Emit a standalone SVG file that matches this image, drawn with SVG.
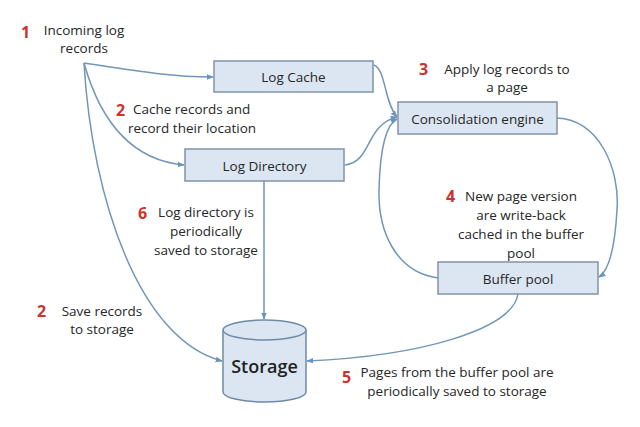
<svg xmlns="http://www.w3.org/2000/svg" width="640" height="427" viewBox="0 0 640 427">
<defs>
<style>
.box{fill:#dce6f2;stroke:#8193a6;stroke-width:1.5}
.t{font-family:"Open Sans","Liberation Sans",sans-serif;font-size:13.5px;fill:#262626}
.n{font-family:"Open Sans","Liberation Sans",sans-serif;font-size:16px;font-weight:bold;fill:#d0302c}
.c{fill:none;stroke:#7096b8;stroke-width:1.5}
</style>
<marker id="ah" viewBox="0 0 10 10" refX="9" refY="5" markerWidth="7" markerHeight="7" orient="auto" markerUnits="userSpaceOnUse">
<path d="M0,1 L10,5 L0,9 z" fill="#6a93bd"/>
</marker>
</defs>
<rect width="640" height="427" fill="#fff"/>
<g id="connectors">
<path class="c" marker-end="url(#ah)" d="M84,63 C130,70 170,77 213,77"/>
<path class="c" marker-end="url(#ah)" d="M84,63 C100,120 130,160 184,165"/>
<path class="c" marker-end="url(#ah)" d="M84,63 C92,200 140,340 222,361"/>
<path class="c" marker-end="url(#ah)" d="M374,65 C386,70 384,102 397,117"/>
<path class="c" marker-end="url(#ah)" d="M345,165 C372,162 365,125 397,117"/>
<path class="c" marker-end="url(#ah)" d="M438,278 C395,272 378,230 379,190 C380,150 385,125 397,119"/>
<path class="c" marker-end="url(#ah)" d="M557,118 C600,120 620,170 617,210 C615,245 610,270 599,277"/>
<path class="c" marker-end="url(#ah)" d="M264,181 L264,319"/>
<path class="c" marker-end="url(#ah)" d="M518,294 C512,330 420,356 307,361"/>
</g>
<g id="log-cache">
<rect class="box" x="214" y="61" width="159" height="31"/>
<text class="t" x="293.5" y="81.5" text-anchor="middle">Log Cache</text>
</g>
<g id="log-directory">
<rect class="box" x="185" y="149" width="159" height="32"/>
<text class="t" x="264.5" y="170.5" text-anchor="middle">Log Directory</text>
</g>
<g id="consolidation-engine">
<rect class="box" x="398" y="102" width="159" height="32"/>
<text class="t" x="477.5" y="123.5" text-anchor="middle">Consolidation engine</text>
</g>
<g id="buffer-pool">
<rect class="box" x="438" y="262" width="160" height="32"/>
<text class="t" x="518" y="283.5" text-anchor="middle">Buffer pool</text>
</g>
<g id="storage">
<path d="M223,330 L223,392 A41.5,10 0 0 0 306,392 L306,330 A41.5,10 0 0 0 223,330 z" fill="#dce6f2" stroke="#6f8aa5" stroke-width="1.5"/>
<path d="M223,330 A41.5,10 0 0 0 306,330" fill="none" stroke="#6f8aa5" stroke-width="1.5"/>
<text x="264.5" y="373" text-anchor="middle" style="font-family:'Open Sans','Liberation Sans',sans-serif;font-size:18px;font-weight:600;fill:#222">Storage</text>
</g>
<g id="labels">
<text class="n" x="21" y="38">1</text>
<text class="t" x="84" y="35" text-anchor="middle">Incoming log</text>
<text class="t" x="84" y="53" text-anchor="middle">records</text>
<text class="n" x="116" y="116">2</text>
<text class="t" x="133" y="114">Cache records and</text>
<text class="t" x="192" y="133" text-anchor="middle">record their location</text>
<text class="n" x="419" y="75">3</text>
<text class="t" x="507" y="74" text-anchor="middle">Apply log records to</text>
<text class="t" x="507" y="92" text-anchor="middle">a page</text>
<text class="n" x="446" y="202">4</text>
<text class="t" x="521" y="201" text-anchor="middle">New page version</text>
<text class="t" x="521" y="220" text-anchor="middle">are write-back</text>
<text class="t" x="521" y="239" text-anchor="middle">cached in the buffer</text>
<text class="t" x="521" y="258" text-anchor="middle">pool</text>
<text class="n" x="342" y="383">5</text>
<text class="t" x="457" y="377" text-anchor="middle">Pages from the buffer pool are</text>
<text class="t" x="457" y="396" text-anchor="middle">periodically saved to storage</text>
<text class="n" x="138" y="219">6</text>
<text class="t" x="206" y="217" text-anchor="middle">Log directory is</text>
<text class="t" x="206" y="236" text-anchor="middle">periodically</text>
<text class="t" x="206" y="255" text-anchor="middle">saved to storage</text>
<text class="n" x="37" y="317">2</text>
<text class="t" x="102" y="316" text-anchor="middle">Save records</text>
<text class="t" x="102" y="334" text-anchor="middle">to storage</text>
</g>
</svg>
